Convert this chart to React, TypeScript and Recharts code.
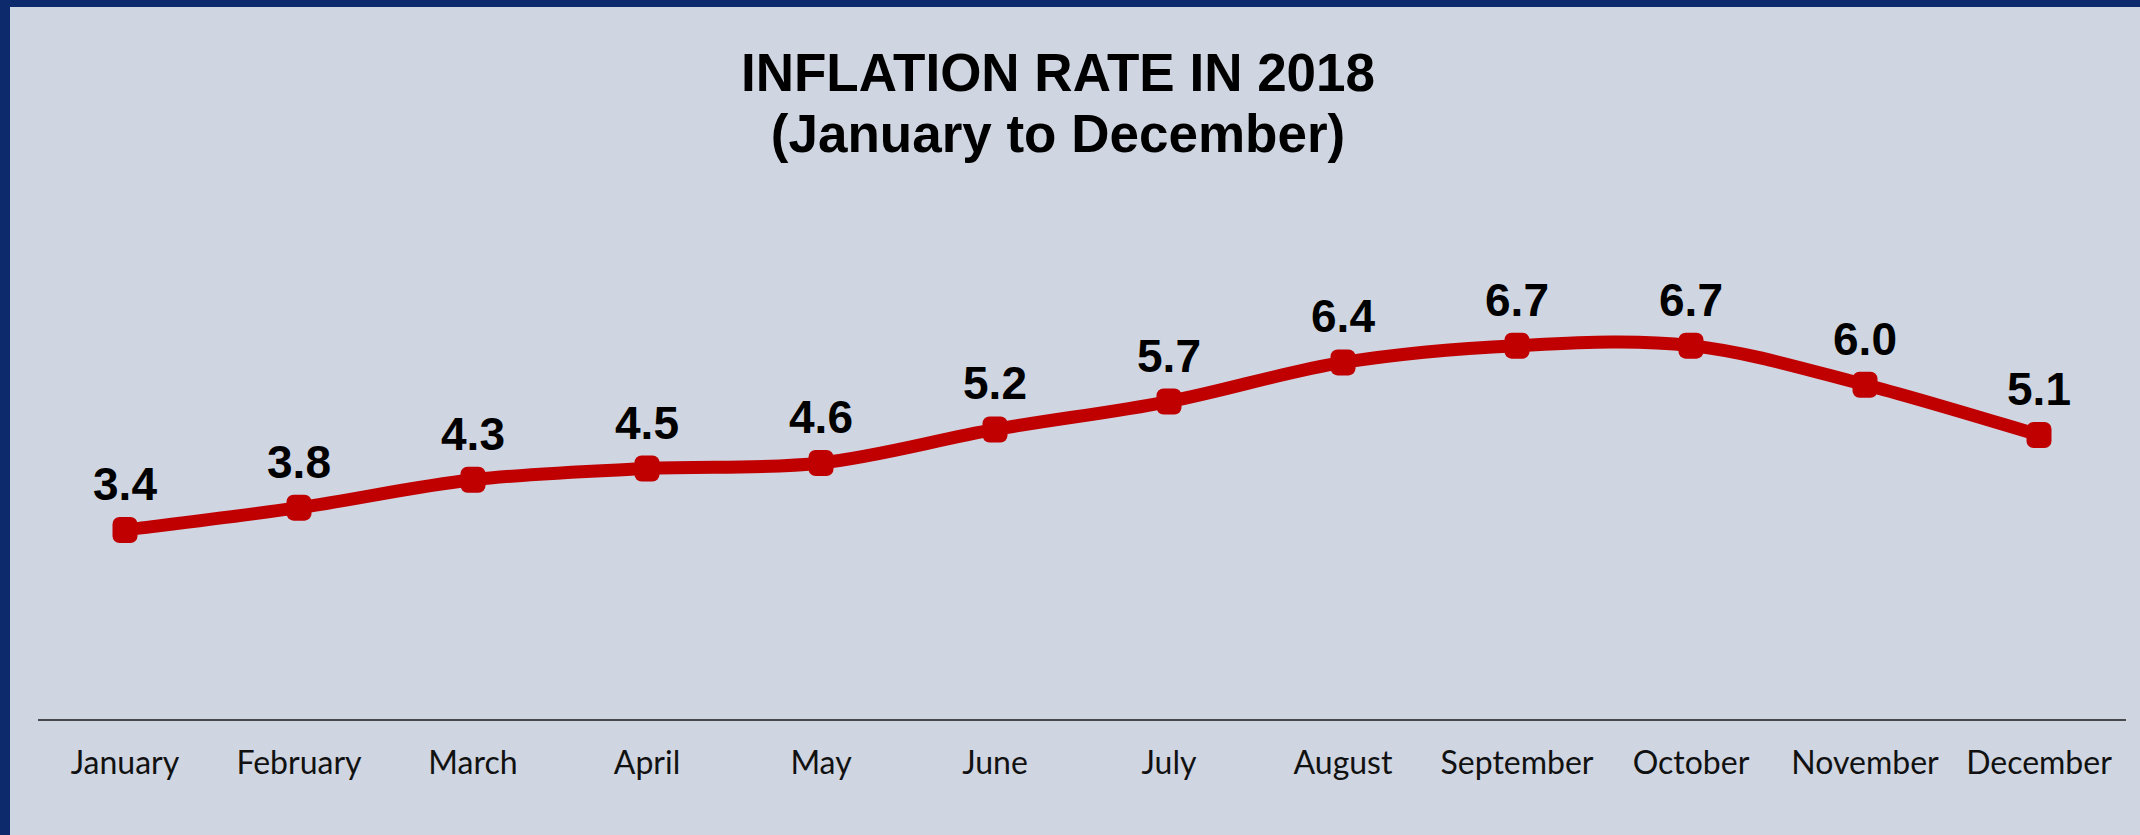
import { LineChart, Line, XAxis, YAxis, LabelList } from "recharts";

const months = [
  "January",
  "February",
  "March",
  "April",
  "May",
  "June",
  "July",
  "August",
  "September",
  "October",
  "November",
  "December",
];

const inflation = [3.4, 3.8, 4.3, 4.5, 4.6, 5.2, 5.7, 6.4, 6.7, 6.7, 6.0, 5.1];

const data = months.map((month, i) => ({ month, rate: inflation[i] }));

// Excel-style smoothing (Catmull-Rom through every point)
function smoothCurve(context: any) {
  let pts: number[][] = [];
  return {
    areaStart() {},
    areaEnd() {},
    lineStart() {
      pts = [];
    },
    point(x: number, y: number) {
      pts.push([+x, +y]);
    },
    lineEnd() {
      if (!pts.length) return;
      context.moveTo(pts[0][0], pts[0][1]);
      for (let i = 0; i < pts.length - 1; i++) {
        const p0 = pts[i - 1] || pts[i];
        const p1 = pts[i];
        const p2 = pts[i + 1];
        const p3 = pts[i + 2] || pts[i + 1];
        context.bezierCurveTo(
          p1[0] + (p2[0] - p0[0]) / 6,
          p1[1] + (p2[1] - p0[1]) / 6,
          p2[0] - (p3[0] - p1[0]) / 6,
          p2[1] - (p3[1] - p1[1]) / 6,
          p2[0],
          p2[1]
        );
      }
    },
  };
}

const SquareDot = (props: any) => {
  const { cx, cy } = props;
  if (cx == null || cy == null) return null;
  return <rect x={cx - 12.5} y={cy - 13} width={25} height={26} rx={7} fill="#c00000" />;
};

const MonthTick = (props: any) => {
  const { x, y, payload } = props;
  return (
    <text
      x={x}
      y={y}
      dy={54}
      textAnchor="middle"
      fill="#111"
      fontSize={32}
      fontFamily="Lato, 'Noto Sans', sans-serif"
    >
      {payload.value}
    </text>
  );
};

const ValueLabel = (props: any) => {
  const { x, y, value } = props;
  return (
    <text
      x={x}
      y={y - 30}
      textAnchor="middle"
      fill="#000"
      fontSize={46}
      fontWeight="bold"
      fontFamily="'Liberation Sans', Arial, sans-serif"
    >
      {Number(value).toFixed(1)}
    </text>
  );
};

export default function App() {
  return (
    <div
      style={{
        position: "absolute",
        left: 0,
        top: 0,
        width: 2140,
        height: 835,
        background: "#0c2a6c",
        overflow: "hidden",
      }}
    >
      <div
        style={{
          position: "absolute",
          left: 10,
          top: 7,
          width: 2130,
          height: 828,
          background: "#cfd5e1",
        }}
      />
      <div
        style={{
          position: "absolute",
          left: 658,
          width: 800,
          top: 42,
          textAlign: "center",
          fontFamily: "'Liberation Sans', Arial, sans-serif",
          fontWeight: "bold",
          fontSize: 53,
          lineHeight: "61px",
          color: "#000",
        }}
      >
        <div>INFLATION RATE IN 2018</div>
        <div>(January to December)</div>
      </div>
      <div style={{ position: "absolute", left: 0, top: 0 }}>
        <LineChart
          width={2140}
          height={835}
          data={data}
          margin={{ top: 273, right: 14, bottom: 55, left: 38 }}
        >
          <XAxis
            dataKey="month"
            height={60}
            padding={{ left: 87, right: 87 }}
            axisLine={{ stroke: "#1a1a1a", strokeWidth: 1.3 }}
            tickLine={false}
            tickSize={0}
            tickMargin={0}
            interval={0}
            tick={<MonthTick />}
          />
          <YAxis hide domain={[0, 8]} />
          <Line
            dataKey="rate"
            type={smoothCurve as any}
            stroke="#c00000"
            strokeWidth={13}
            strokeLinecap="round"
            dot={<SquareDot />}
            activeDot={false}
            isAnimationActive={false}
          >
            <LabelList dataKey="rate" content={<ValueLabel />} />
          </Line>
        </LineChart>
      </div>
    </div>
  );
}
